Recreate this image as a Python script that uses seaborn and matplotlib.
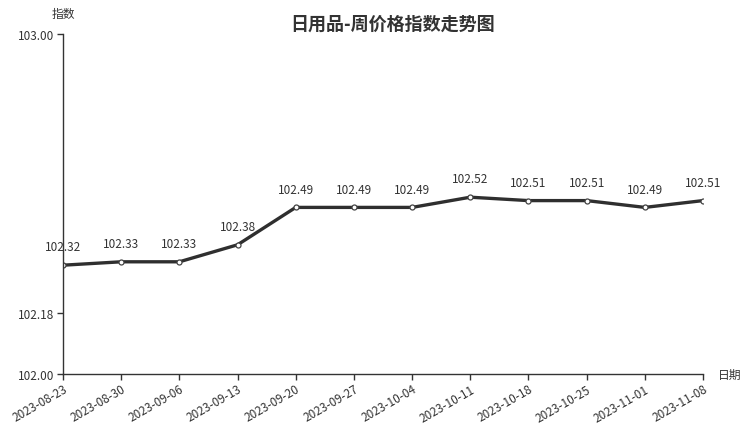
#!/usr/bin/env python3
# daily goods weekly price index line chart

import matplotlib
matplotlib.use("Agg")
import numpy as np
import pandas as pd
import matplotlib.pyplot as plt
import seaborn as sns

sns.set_theme(style="white")
plt.rcParams["font.family"] = ["Noto Sans CJK SC", "DejaVu Sans"]

dates = ["2023-08-23", "2023-08-30", "2023-09-06", "2023-09-13", "2023-09-20", "2023-09-27",
         "2023-10-04", "2023-10-11", "2023-10-18", "2023-10-25", "2023-11-01", "2023-11-08"]
index_values = [102.32, 102.33, 102.33, 102.38, 102.49, 102.49,
                102.49, 102.52, 102.51, 102.51, 102.49, 102.51]
y_ticks = [102.00, 102.18, 103.00]

df = pd.DataFrame({"date": dates, "value": index_values})
df["pos"] = np.arange(len(df))

text_color = "#333333"
fig = plt.figure(figsize=(7.52, 4.27), dpi=100)
ax = fig.add_axes([63 / 752, 1 - 375 / 427, 640 / 752, 340 / 427])

sns.lineplot(data=df, x="pos", y="value", ax=ax, color="#2f2f2f", linewidth=2.4,
             marker="o", markersize=3.6, markerfacecolor="white",
             markeredgecolor="#444444", markeredgewidth=0.9)

for x, y in zip(df["pos"], df["value"]):
    ax.annotate(f"{y:.2f}", (x, y), xytext=(0, 8.5), textcoords="offset points",
                ha="center", va="bottom", fontsize=8.5, color=text_color)

ax.set_xlim(0, len(dates) - 1)
ax.set_ylim(102.0, 103.0)
ax.set_xticks(df["pos"])
ax.set_xticklabels(dates, rotation=30, ha="right", rotation_mode="anchor")
ax.set_yticks(y_ticks)
ax.set_yticklabels([f"{t:.2f}" for t in y_ticks])
ax.tick_params(axis="both", direction="out", length=4, width=1, color=text_color,
               labelsize=8.5, labelcolor=text_color, pad=2, bottom=True, left=True)

for side in ["top", "right"]:
    ax.spines[side].set_visible(False)
for side in ["left", "bottom"]:
    ax.spines[side].set_color(text_color)
    ax.spines[side].set_linewidth(1)

ax.set_xlabel("")
ax.set_ylabel("")
fig.text(63 / 752, 1 - 14 / 427, "指数", ha="center", va="center", fontsize=8.5, color=text_color)
fig.text(730 / 752, 1 - 375 / 427, "日期", ha="center", va="center", fontsize=8.5, color=text_color)
fig.text(393 / 752, 1 - 24 / 427, "日用品-周价格指数走势图", ha="center", va="center",
         fontsize=13, fontweight="bold", color=text_color)

fig.savefig("out.png", dpi=100)
